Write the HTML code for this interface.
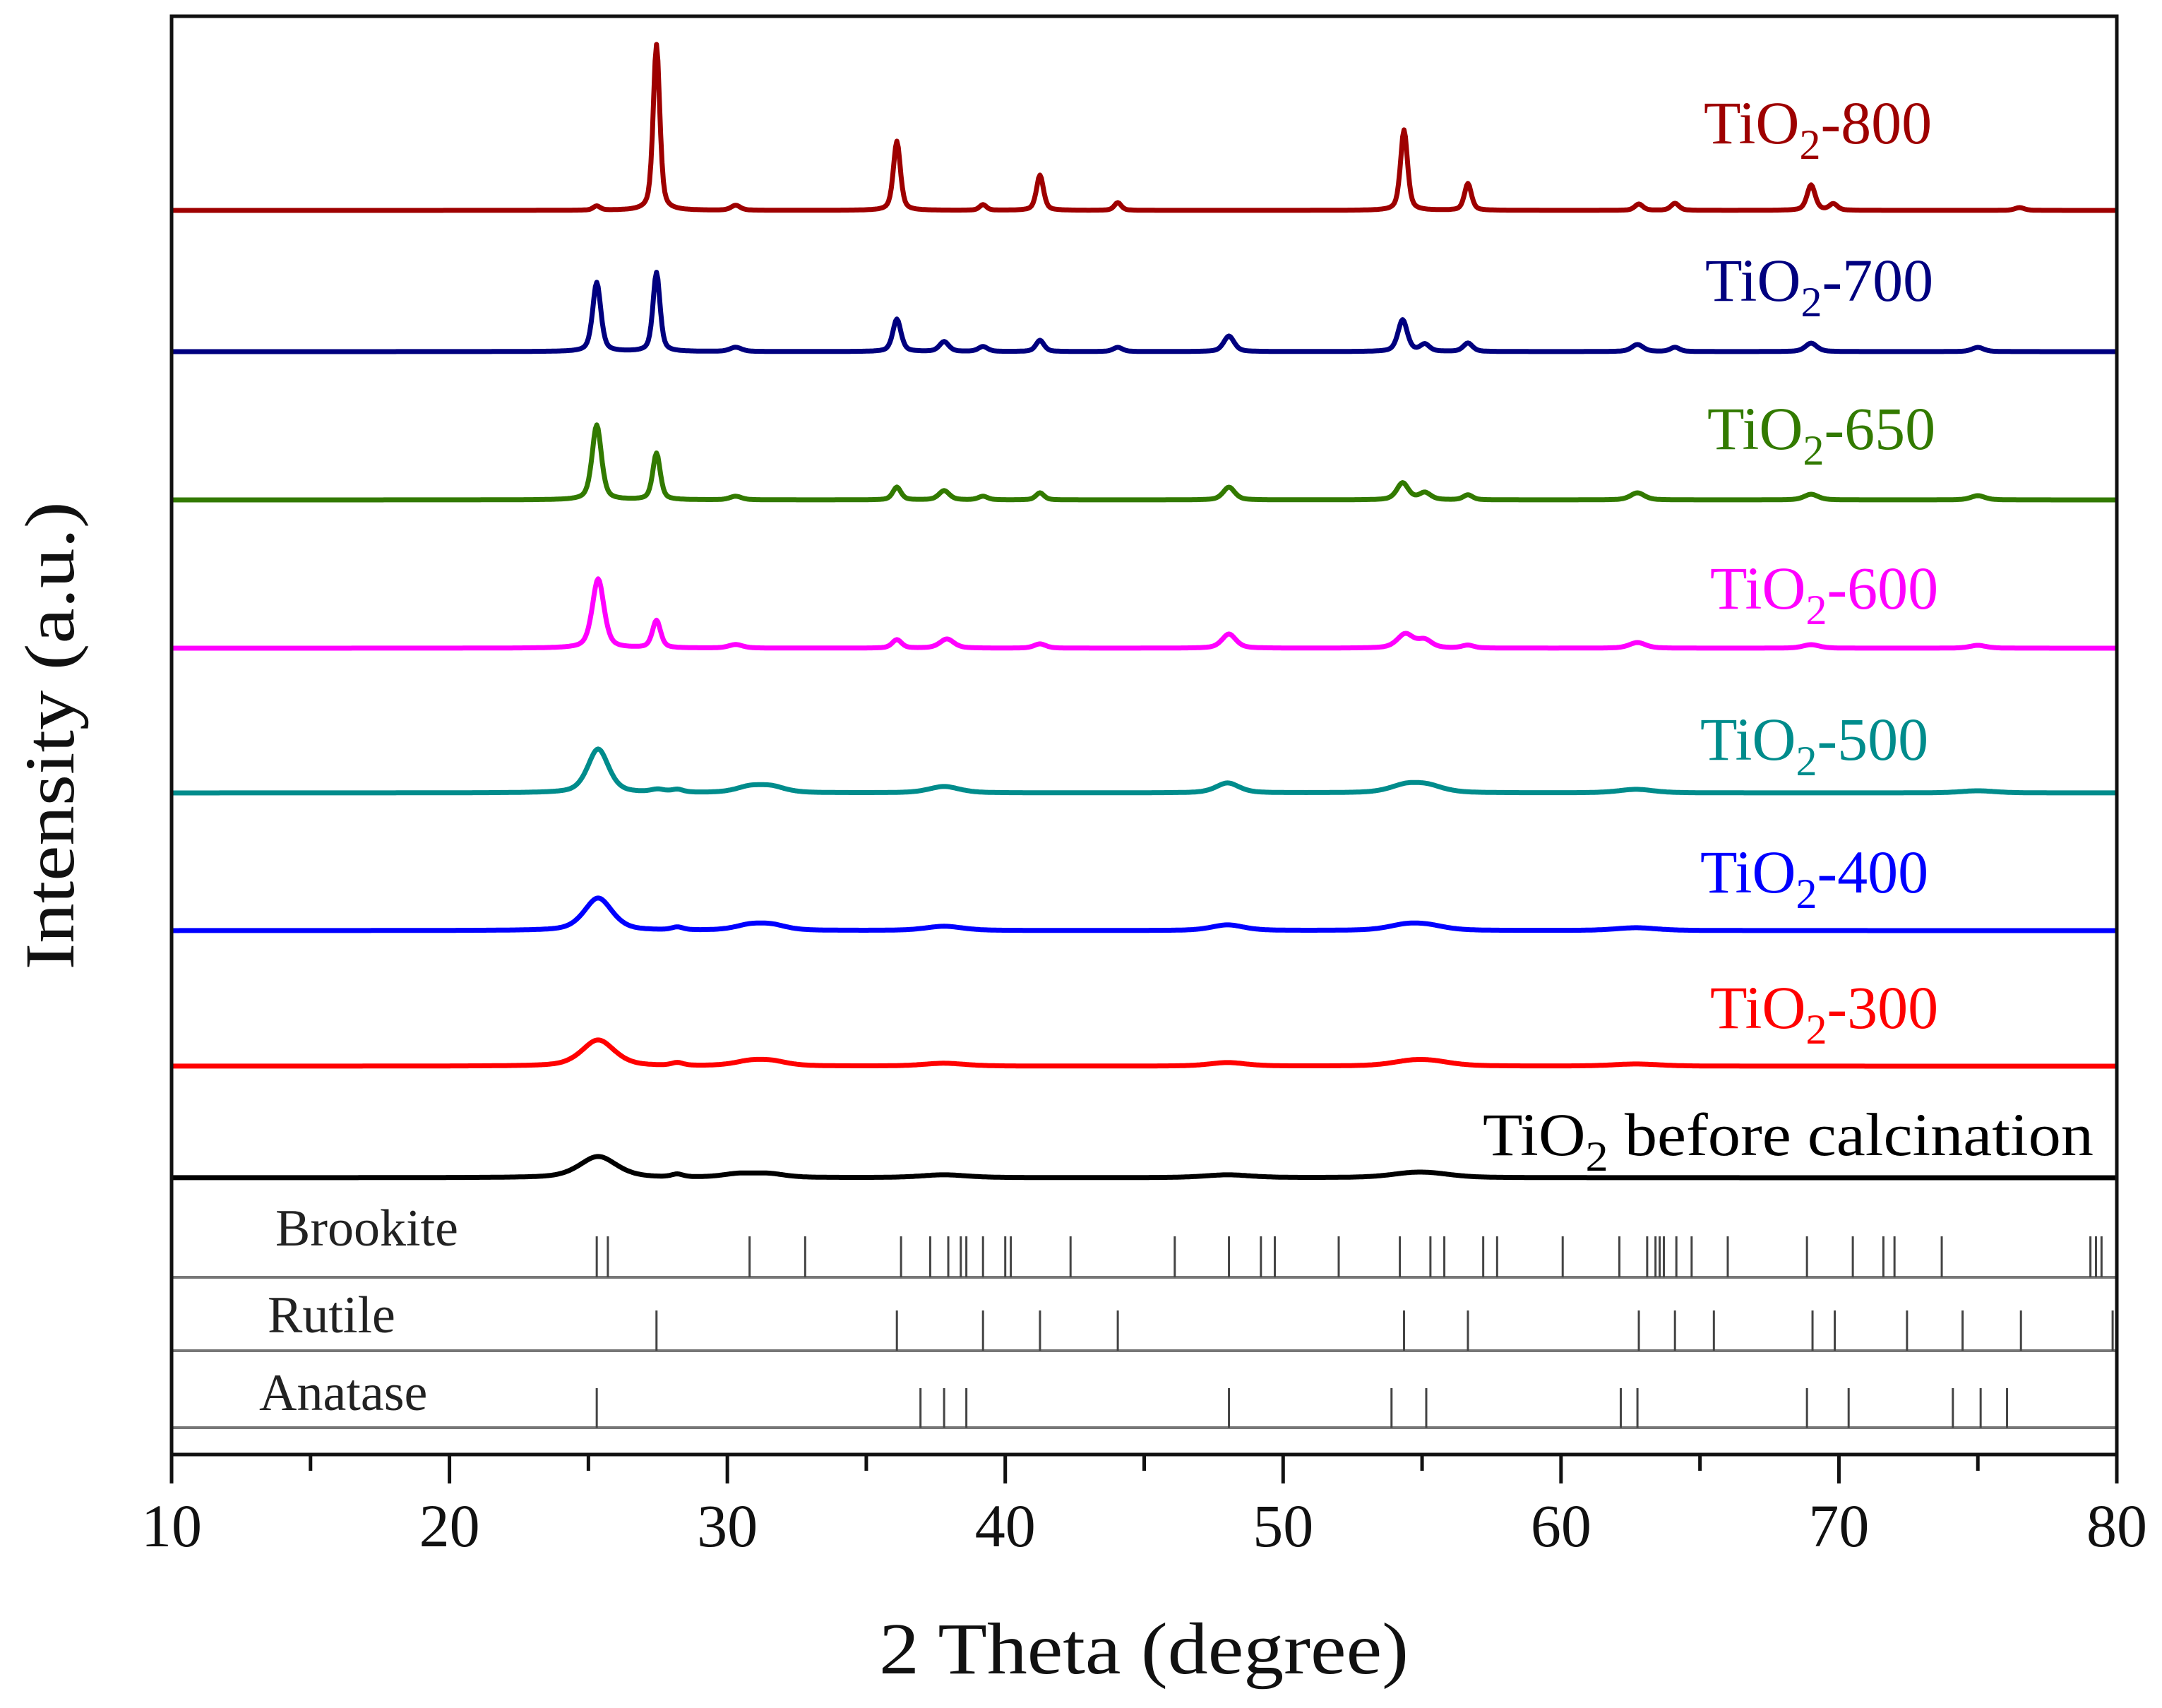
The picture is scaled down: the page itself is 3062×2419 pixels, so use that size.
<!DOCTYPE html>
<html><head><meta charset="utf-8"><style>
html,body{margin:0;padding:0;background:#fff;}
svg{display:block;font-family:"Liberation Serif",serif;}
</style></head><body>
<svg id="chart" width="3062" height="2419" viewBox="0 0 3062 2419" xmlns="http://www.w3.org/2000/svg">
<rect x="0" y="0" width="3062" height="2419" fill="#fff"/>
<g id="curves"></g>
<g id="refs"></g>
<g id="axes"></g>
<g id="labels"></g>
<text transform="translate(104,1042) rotate(-90)" text-anchor="middle" font-size="100" textLength="663" lengthAdjust="spacingAndGlyphs" fill="#111">Intensity (a.u.)</text>
<text x="1620" y="2370" text-anchor="middle" font-size="104" textLength="750" lengthAdjust="spacingAndGlyphs" fill="#111">2 Theta (degree)</text>
</svg>
<script>
// ---- data ----
const xTicks = [10,20,30,40,50,60,70,80];
const xMinor = [15,25,35,45,55,65,75];
const seriesNames = ["TiO2-800","TiO2-700","TiO2-650","TiO2-600","TiO2-500","TiO2-400","TiO2-300","TiO2 before calcination"];
const seriesOffsets = [0,200,410,620,825,1020,1212,1370];
const s800Pos = [25.3,27.45,30.3,36.1,39.2,41.25,44.05,54.35,56.65,62.8,64.1,69.0,69.8,76.5];
const s800H   = [6,235,7,98,8,50,11,114,38,9,10,36,9,4];
const s800W   = [0.3,0.28,0.4,0.3,0.3,0.3,0.3,0.3,0.3,0.35,0.35,0.35,0.35,0.4];
const s700Pos = [25.3,27.45,30.3,36.1,37.8,39.2,41.25,44.05,48.05,54.3,55.1,56.65,62.75,64.1,69.0,75.0];
const s700H   = [98,112,6,46,14,7,16,6,22,45,10,12,10,6,12,6];
const s700W   = [0.35,0.3,0.5,0.35,0.4,0.4,0.35,0.4,0.45,0.4,0.4,0.4,0.5,0.4,0.5,0.5];
const s650Pos = [25.3,27.45,30.3,36.1,37.8,39.2,41.25,48.05,54.3,55.1,56.65,62.75,69.0,75.0];
const s650H   = [106,66,5,18,13,5,10,18,24,10,7,10,8,6];
const s650W   = [0.4,0.32,0.5,0.35,0.45,0.4,0.35,0.5,0.5,0.5,0.4,0.6,0.6,0.6];
const s600Pos = [25.35,27.45,30.3,36.1,37.9,41.25,48.05,54.4,55.1,56.65,62.75,69.0,75.0];
const s600H   = [98,39,5,12,13,6,20,20,11,4,8,5,4];
const s600W   = [0.5,0.35,0.6,0.4,0.6,0.5,0.6,0.7,0.6,0.5,0.7,0.7,0.7];
const s500Pos = [25.35,27.5,28.2,30.8,31.6,37.8,48.0,54.4,55.2,62.7,75.0];
const s500H   = [62,4,4,8,8,9,14,10,9,5,3];
const s500W   = [0.9,0.6,0.5,1.2,1.2,1.3,1.0,1.4,1.4,1.5,1.5];
const s400Pos = [25.35,28.2,30.8,31.6,37.8,48.0,54.4,55.2,62.7];
const s400H   = [46,4,7,7,6,8,7,6,4];
const s400W   = [1.2,0.5,1.3,1.3,1.6,1.4,1.6,1.6,1.8];
const s300Pos = [25.35,28.2,30.8,31.6,37.8,48.0,54.6,55.4,62.7];
const s300H   = [37,4,6,6,4,5,6,5,3];
const s300W   = [1.4,0.5,1.4,1.4,1.8,1.6,1.8,1.8,2.0];
const s0Pos   = [25.35,28.2,30.4,31.5,37.8,48.0,54.6,55.4];
const s0H     = [30,4,5,5,4,4,5,4];
const s0W     = [1.6,0.5,1.4,1.4,2.0,2.0,2.0,2.0];
const brookite = [25.3,25.7,30.8,32.8,36.25,37.3,37.95,38.4,38.6,39.2,40.0,40.2,42.35,46.1,48.05,49.2,49.7,52.0,54.2,55.3,55.8,57.2,57.7,60.06,62.1,63.1,63.4,63.55,63.7,64.15,64.7,66.0,68.85,70.5,71.6,72.0,73.7,79.05,79.25,79.45];
const rutile = [27.45,36.1,39.2,41.25,44.05,54.35,56.65,62.8,64.1,65.5,69.05,69.85,72.45,74.45,76.55,79.85];
const anatase = [25.3,36.95,37.8,38.6,48.05,53.9,55.15,62.15,62.75,68.85,70.35,74.1,75.1,76.05];
const refNames = ["Brookite","Rutile","Anatase"];
// ---- layout ----
const colors = ["#9e0000","#00007f","#327a00","#ff00ff","#008c8c","#0000ff","#ff0000","#000000"];
const X0=243, X1=2998, YTOP=23, YBOT=2060;
const xs = v => X0 + (v-10)*(X1-X0)/70;
const BASE0 = 298;
const NS='http://www.w3.org/2000/svg';
function mk(tag, attrs, parent){const e=document.createElementNS(NS,tag);for(const k in attrs)e.setAttribute(k,attrs[k]);parent.appendChild(e);return e;}
const allPos=[s800Pos,s700Pos,s650Pos,s600Pos,s500Pos,s400Pos,s300Pos,s0Pos];
const allH=[s800H,s700H,s650H,s600H,s500H,s400H,s300H,s0H];
const allW=[s800W,s700W,s650W,s600W,s500W,s400W,s300W,s0W];
const gC=document.getElementById('curves');
for(let s=0;s<8;s++){
  const base=BASE0+seriesOffsets[s];
  let d='';
  for(let i=0;i<=1400;i++){
    const t=10+i*0.05;
    let y=0;
    for(let p=0;p<allPos[s].length;p++){
      const g=(allW[s][p]/2);const dx=t-allPos[s][p];
      const lor=1/(1+(dx/g)*(dx/g));
      const gau=Math.exp(-Math.LN2*(dx/g)*(dx/g));
      y+=allH[s][p]*(0.5*lor+0.5*gau);
    }
    d+=(i?'L':'M')+xs(t).toFixed(1)+','+(base-y).toFixed(1);
  }
  const path=mk('path',{d:d,fill:'none',stroke:colors[s],'stroke-width':7,'stroke-linejoin':'round'},gC);
  
  
}
// reference sticks
const gR=document.getElementById('refs');
const refBase=[1809,1913,2022], refTop=[1751,1856,1966], refSets=[brookite,rutile,anatase];
const refLabelX=[390,379,367], refLabelY=[1764,1887,1997];
for(let r=0;r<3;r++){
  const bl=mk('line',{x1:X0,x2:X1,y1:refBase[r],y2:refBase[r],stroke:'#777','stroke-width':4},gR);
  
  
  refSets[r].forEach(v=>{
    const l=mk('line',{x1:xs(v),x2:xs(v),y1:refTop[r],y2:refBase[r],stroke:'#444','stroke-width':3},gR);
    
    
  });
  const t=mk('text',{x:refLabelX[r],y:refLabelY[r],'font-size':74,fill:'#222'},gR);
  t.textContent=refNames[r];
  
  
}
// axes
const gA=document.getElementById('axes');
const fr=mk('rect',{x:X0,y:YTOP,width:X1-X0,height:YBOT-YTOP,fill:'none',stroke:'#111','stroke-width':5},gA);


xTicks.forEach(v=>{
  const l=mk('line',{x1:xs(v),x2:xs(v),y1:YBOT,y2:YBOT+41,stroke:'#111','stroke-width':5},gA);
  
  
  const t=mk('text',{x:xs(v),y:2190,'text-anchor':'middle','font-size':86,fill:'#111'},gA);
  t.textContent=v;
  
  
});
xMinor.forEach(v=>{
  const l=mk('line',{x1:xs(v),x2:xs(v),y1:YBOT,y2:YBOT+23,stroke:'#111','stroke-width':5},gA);
  
  
});
// labels
const gL=document.getElementById('labels');
const labX=[2413,2415,2418,2422,2408,2408,2422,2100];
const labY=[203,426,636,862,1076,1264,1456,1636];
const suffix=["-800","-700","-650","-600","-500","-400","-300"," before calcination"];
for(let s=0;s<8;s++){
  const attrs={x:labX[s],y:labY[s],'font-size':86,fill:colors[s]};
  if(s===7){attrs.textLength=865;attrs.lengthAdjust='spacingAndGlyphs';}
  const t=mk('text',attrs,gL);
  const a=mk('tspan',{},t);a.textContent='TiO';
  const b=mk('tspan',{dy:22,'font-size':60},t);b.textContent='2';
  const c=mk('tspan',{dy:-22},t);c.textContent=suffix[s];
  
  
}
</script>
</body></html>
